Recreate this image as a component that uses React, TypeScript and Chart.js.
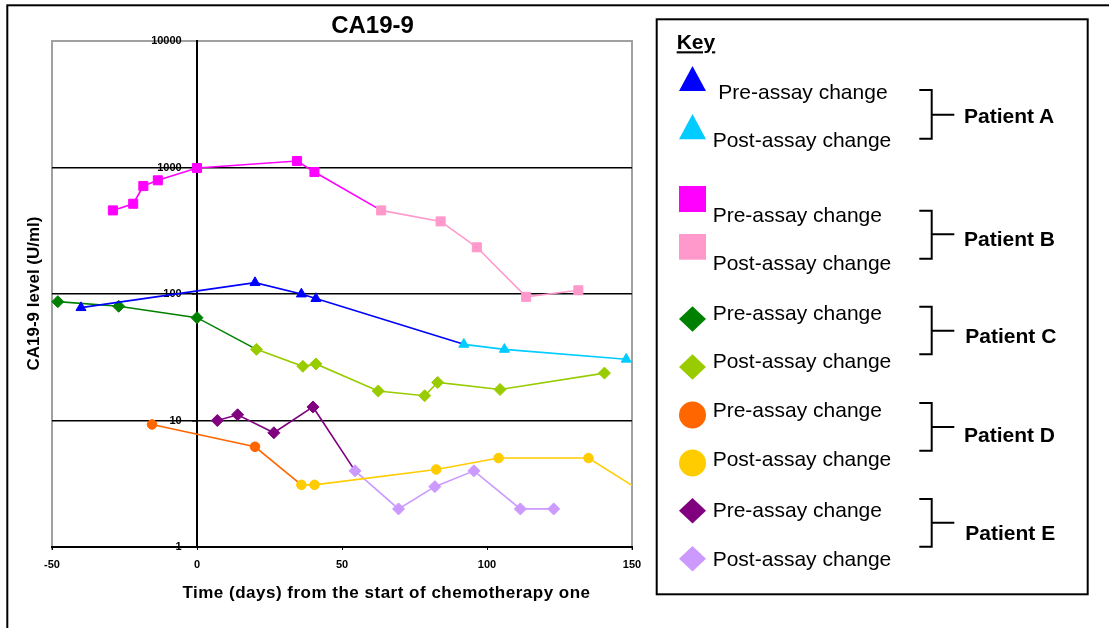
import React, { useEffect, useRef } from 'react';
import { Chart, registerables } from 'chart.js';

Chart.register(...registerables);

// ---- Data ----
const xTicks = [-50, 0, 50, 100, 150];
const yTicks = [1, 10, 100, 1000, 10000];

const aPreDays = [-40, 20, 36, 41];
const aPreVals = [78, 123, 100, 92];
const aPostDays = [92, 106, 148];
const aPostVals = [40, 36.5, 30.5];

const bPreDays = [-29, -22, -18.5, -13.5, 0, 34.5, 40.5];
const bPreVals = [458, 517, 714, 792, 990, 1125, 921];
const bPostDays = [63.5, 84, 96.5, 113.5, 131.5];
const bPostVals = [458, 375, 234, 95, 107];

const cPreDays = [-48, -27, 0];
const cPreVals = [87, 80, 65];
const cPostDays = [20.5, 36.5, 41, 62.5, 78.5, 83, 104.5, 140.5];
const cPostVals = [36.5, 26.8, 28, 17.1, 15.7, 20, 17.6, 23.7];

const dPreDays = [-15.5, 20];
const dPreVals = [9.3, 6.2];
const dPostDays = [36, 40.5, 82.5, 104, 135, 160];
const dPostVals = [3.1, 3.1, 4.1, 5.05, 5.05, 2.2];

const ePreDays = [7, 14, 26.5, 40];
const ePreVals = [10, 11.1, 8.0, 12.8];
const ePostDays = [54.5, 69.5, 82, 95.5, 111.5, 123];
const ePostVals = [4.0, 2.0, 3.0, 4.0, 2.0, 2.0];

const FONT = '"Liberation Sans", Arial, Helvetica, sans-serif';

const pts = (d: number[], v: number[]) => d.map((x, i) => ({ x, y: v[i] }));

function makePair(
  name: string,
  preD: number[], preV: number[], postD: number[], postV: number[],
  preColor: string, postColor: string, style: string, radius: number
) {
  const preLine = pts(preD, preV).concat(pts(postD.slice(0, 1), postV.slice(0, 1)));
  const preRadii = preLine.map((_, i) => (i < preD.length ? radius : 0));
  const common = {
    pointStyle: style,
    borderWidth: 1.6,
    pointBorderWidth: 1,
    clip: { left: 8, top: 8, right: 0, bottom: 8 },
    tension: 0,
  };
  return [
    {
      ...common,
      label: name + ' post',
      data: pts(postD, postV),
      borderColor: postColor,
      backgroundColor: postColor,
      pointBackgroundColor: postColor,
      pointBorderColor: postColor,
      pointRadius: radius,
      order: 0,
    },
    {
      ...common,
      label: name + ' pre',
      data: preLine,
      borderColor: preColor,
      backgroundColor: preColor,
      pointBackgroundColor: preColor,
      pointBorderColor: preColor,
      pointRadius: preRadii,
      order: 1,
    },
  ];
}

const plotFrame = {
  id: 'plotFrame',
  beforeDraw(chart: any) {
    const { ctx, chartArea } = chart;
    ctx.save();
    ctx.strokeStyle = '#a0a0a0';
    ctx.lineWidth = 2;
    ctx.beginPath();
    ctx.moveTo(chartArea.left, chartArea.bottom + 3);
    ctx.lineTo(chartArea.left, chartArea.top);
    ctx.lineTo(chartArea.right, chartArea.top);
    ctx.lineTo(chartArea.right, chartArea.bottom + 3);
    ctx.stroke();
    ctx.restore();
  },
};

function Legend() {
  const cx = 692.5;
  const tri = (top: number, bot: number, c: string) => (
    <polygon points={`${cx},${top} ${cx + 13.5},${bot} ${cx - 13.5},${bot}`} fill={c} />
  );
  const sq = (top: number, bot: number, c: string) => (
    <rect x={cx - 13.5} y={top} width={27} height={bot - top} fill={c} />
  );
  const dia = (cy: number, c: string) => (
    <polygon points={`${cx},${cy - 12.8} ${cx + 13.5},${cy} ${cx},${cy + 12.8} ${cx - 13.5},${cy}`} fill={c} />
  );
  const circ = (cy: number, c: string) => <circle cx={cx} cy={cy} r={13.5} fill={c} />;
  const txt = (x: number, y: number, s: string) => (
    <text x={x} y={y} fontSize={21} fontFamily={FONT} fill="#000">{s}</text>
  );
  const bracket = (top: number, bot: number, mid: number, label: string, lx: number, ly: number) => (
    <g>
      <path d={`M919.3,${top} H931.7 V${bot} H919.3 M931.7,${mid} H954.3`} stroke="#000" strokeWidth={2} fill="none" />
      <text x={lx} y={ly} fontSize={21} fontWeight="bold" fontFamily={FONT} fill="#000">{label}</text>
    </g>
  );
  return (
    <g>
      <rect x={656.7} y={19.3} width={431} height={575} fill="#fff" stroke="#000" strokeWidth={2} />
      <text x={676.7} y={49.3} fontSize={21} fontWeight="bold" fontFamily={FONT} textDecoration="underline" fill="#000">Key</text>

      {tri(66, 91, '#0000FF')}
      {txt(718.3, 98.5, 'Pre-assay change')}
      {tri(114, 139.3, '#00CCFF')}
      {txt(712.7, 146.7, 'Post-assay change')}
      {bracket(90, 138.7, 114.7, 'Patient A', 964, 122.7)}

      {sq(186, 212, '#FF00FF')}
      {txt(712.7, 221.7, 'Pre-assay change')}
      {sq(234, 259.7, '#FF99CC')}
      {txt(712.7, 270, 'Post-assay change')}
      {bracket(210.7, 258.7, 234.3, 'Patient B', 964, 246)}

      {dia(319, '#008000')}
      {txt(712.7, 320, 'Pre-assay change')}
      {dia(367, '#99CC00')}
      {txt(712.7, 368.3, 'Post-assay change')}
      {bracket(306.7, 354.3, 330.7, 'Patient C', 965.3, 343.3)}

      {circ(415, '#FF6600')}
      {txt(712.7, 417.3, 'Pre-assay change')}
      {circ(463, '#FFCC00')}
      {txt(712.7, 466, 'Post-assay change')}
      {bracket(403, 450.7, 427, 'Patient D', 964, 441.7)}

      {dia(510.7, '#800080')}
      {txt(712.7, 516.7, 'Pre-assay change')}
      {dia(558.7, '#CC99FF')}
      {txt(712.7, 565.7, 'Post-assay change')}
      {bracket(499, 546.7, 522.7, 'Patient E', 965.3, 540)}
    </g>
  );
}

export default function App() {
  const canvasRef = useRef<HTMLCanvasElement | null>(null);

  useEffect(() => {
    if (!canvasRef.current) return;
    const datasets = [
      ...makePair('A', aPreDays, aPreVals, aPostDays, aPostVals, '#0000FF', '#00CCFF', 'triangle', 5.8),
      ...makePair('B', bPreDays, bPreVals, bPostDays, bPostVals, '#FF00FF', '#FF99CC', 'rect', 6.4),
      ...makePair('C', cPreDays, cPreVals, cPostDays, cPostVals, '#008000', '#99CC00', 'rectRot', 6),
      ...makePair('D', dPreDays, dPreVals, dPostDays, dPostVals, '#FF6600', '#FFCC00', 'circle', 4.8),
      ...makePair('E', ePreDays, ePreVals, ePostDays, ePostVals, '#800080', '#CC99FF', 'rectRot', 6),
    ];
    const chart = new Chart(canvasRef.current, {
      type: 'line',
      data: { datasets: datasets as any },
      plugins: [plotFrame],
      options: {
        animation: false,
        responsive: false,
        maintainAspectRatio: false,
        layout: { padding: { left: 52, top: 41, right: 18, bottom: 0 } },
        plugins: {
          legend: { display: false },
          tooltip: { enabled: false },
          title: { display: false },
        },
        scales: {
          x: {
            type: 'linear',
            min: -50,
            max: 150,
            afterBuildTicks: (s: any) => {
              s.ticks = xTicks.map((v) => ({ value: v }));
            },
            afterFit: (s: any) => {
              s.height = 81;
            },
            border: { color: '#000', width: 2 },
            grid: { drawOnChartArea: false, color: '#000', tickLength: 3, lineWidth: 1 },
            ticks: {
              font: { family: FONT, size: 11, weight: 'bold' },
              color: '#000',
              padding: 8,
              maxRotation: 0,
              autoSkip: false,
            },
          },
          y: {
            type: 'logarithmic',
            position: { x: 0 } as any,
            min: 1,
            max: 10000,
            afterBuildTicks: (s: any) => {
              s.ticks = yTicks.map((v) => ({ value: v, major: true }));
            },
            border: { color: '#000', width: 2 },
            grid: {
              color: (ctx: any) => (ctx.tick && ctx.tick.value === 10000 ? '#a0a0a0' : '#000'),
              lineWidth: 1.6,
              tickLength: 4,
            },
            ticks: {
              callback: (v: any) => String(v) + '     ',
              font: { family: FONT, size: 11, weight: 'bold' },
              color: '#000',
              padding: 10,
              autoSkip: false,
            },
          },
        },
      } as any,
    });
    return () => chart.destroy();
  }, []);

  return (
    <div style={{ position: 'absolute', left: 0, top: 0, width: 1109, height: 628, background: '#fff', overflow: 'hidden' }}>
      <canvas
        ref={canvasRef}
        width={650}
        height={628}
        style={{ position: 'absolute', left: 0, top: 0, width: 650, height: 628 }}
      />
      <svg
        width={1109}
        height={628}
        style={{ position: 'absolute', left: 0, top: 0, pointerEvents: 'none' }}
      >
        <rect x={7.3} y={5.3} width={1200} height={700} fill="none" stroke="#000" strokeWidth={2} />
        <text x={372.5} y={33.3} textAnchor="middle" fontSize={24} fontWeight="bold" fontFamily={FONT} fill="#000">CA19-9</text>
        <text
          transform="translate(38.5,293.5) rotate(-90)"
          textAnchor="middle"
          fontSize={17}
          fontWeight="bold"
          fontFamily={FONT}
          fill="#000"
        >
          CA19-9 level (U/ml)
        </text>
        <text x={386.5} y={598.3} textAnchor="middle" fontSize={17} fontWeight="bold" fontFamily={FONT} letterSpacing={0.5} fill="#000">
          Time (days) from the start of chemotherapy one
        </text>
        <Legend />
      </svg>
    </div>
  );
}
